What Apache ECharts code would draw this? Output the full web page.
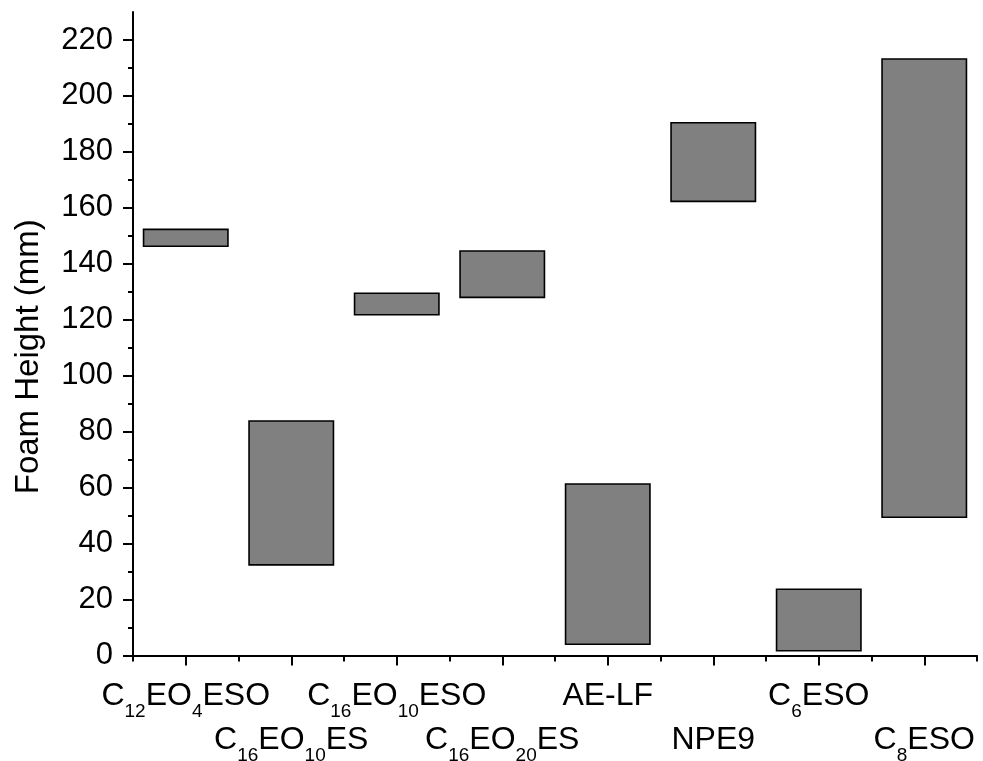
<!DOCTYPE html>
<html>
<head>
<meta charset="utf-8">
<script src="https://cdn.jsdelivr.net/npm/echarts@6/dist/echarts.min.js"></script>
<style>html,body{margin:0;padding:0;background:#fff;}#c{width:983px;height:761px;}</style>
</head>
<body>
<div id="c"></div>
<script>
// Category labels (rich-text markup for subscripts)
const categories = ['C12EO4ESO', 'C16EO10ES', 'C16EO10ESO', 'C16EO20ES', 'AE-LF', 'NPE9', 'C6ESO', 'C8ESO'];
const categoryLabels = [
  '{a|C}{s|12}{a|EO}{s|4}{a|ESO}',
  '{a|C}{s|16}{a|EO}{s|10}{a|ES}',
  '{a|C}{s|16}{a|EO}{s|10}{a|ESO}',
  '{a|C}{s|16}{a|EO}{s|20}{a|ES}',
  '{a|AE-LF}',
  '{a|NPE9}',
  '{a|C}{s|6}{a|ESO}',
  '{a|C}{s|8}{a|ESO}'
];
// Floating bar ranges (low, high) in mm
const lowValues  = [146.3, 32.4, 121.8, 128.0, 4.0, 162.3, 1.7, 49.4];
const highValues = [152.3, 83.8, 129.5, 144.6, 61.3, 190.4, 23.7, 213.2];
// Y axis ticks
const yMajorTicks = [0, 20, 40, 60, 80, 100, 120, 140, 160, 180, 200, 220];
const yMinorTicks = [10, 30, 50, 70, 90, 110, 130, 150, 170, 190, 210];
const yTitle = 'Foam Height (mm)';

const FONT = 'Liberation Sans';
const rich = {
  a: {fontSize: 32, fontFamily: FONT, color: '#000', lineHeight: 34, verticalAlign: 'top'},
  s: {fontSize: 19, fontFamily: FONT, color: '#000', lineHeight: 19, verticalAlign: 'top', padding: [22, 0, 0, 0]}
};

const chart = echarts.init(document.getElementById('c'), null, {renderer: 'canvas'});
const data = categories.map((c, i) => [i, lowValues[i], highValues[i]]);

chart.setOption({
  animation: false,
  backgroundColor: '#fff',
  grid: {left: 133, right: 6, top: 12, bottom: 105.5, containLabel: false, outerBoundsMode: 'none'},
  xAxis: [
    {
      type: 'category', data: categories, boundaryGap: true,
      axisLine: {show: true, lineStyle: {color: '#000', width: 2}},
      axisTick: {show: true, alignWithLabel: true, length: 10, lineStyle: {color: '#000', width: 2}},
      axisLabel: {
        interval: 0, margin: 25, rich: rich,
        formatter: (v, i) => (i % 2 === 0 ? categoryLabels[i] : '')
      },
      splitLine: {show: false}
    },
    {
      type: 'category', data: categories, boundaryGap: true, position: 'bottom', offset: 0,
      axisLine: {show: false},
      axisTick: {show: true, alignWithLabel: false, interval: 0, length: 6, lineStyle: {color: '#000', width: 2}},
      axisLabel: {
        interval: 0, margin: 69, rich: rich,
        formatter: (v, i) => (i % 2 === 1 ? categoryLabels[i] : '')
      },
      splitLine: {show: false}
    }
  ],
  yAxis: [
    {
      type: 'value', min: 0, max: 230, position: 'left',
      name: yTitle, nameLocation: 'middle', nameRotate: 90, nameGap: 88,
      nameTextStyle: {fontSize: 33, fontFamily: FONT, color: '#000', padding: [0, 46, 0, 0]},
      axisLine: {show: true, lineStyle: {color: '#000', width: 2}},
      axisTick: {show: true, length: 10, customValues: yMajorTicks, lineStyle: {color: '#000', width: 2}},
      axisLabel: {show: true, margin: 20, customValues: yMajorTicks, fontSize: 31, fontFamily: FONT, color: '#000'},
      splitLine: {show: false}
    },
    {
      type: 'value', min: 0, max: 230, position: 'left', offset: 0,
      axisLine: {show: false},
      axisTick: {show: true, length: 5, customValues: yMinorTicks, lineStyle: {color: '#000', width: 2}},
      axisLabel: {show: false},
      splitLine: {show: false}
    }
  ],
  series: [{
    type: 'custom',
    xAxisIndex: 0, yAxisIndex: 0,
    encode: {x: 0, y: [1, 2]},
    data: data,
    renderItem: function (params, api) {
      const x = api.value(0);
      const lo = api.coord([x, api.value(1)]);
      const hi = api.coord([x, api.value(2)]);
      const w = api.size([1, 0])[0] * 0.8;
      return {
        type: 'rect',
        shape: {x: lo[0] - w / 2, y: hi[1], width: w, height: lo[1] - hi[1]},
        style: {fill: '#808080', stroke: '#000', lineWidth: 1.6}
      };
    }
  }]
});
</script>
</body>
</html>
